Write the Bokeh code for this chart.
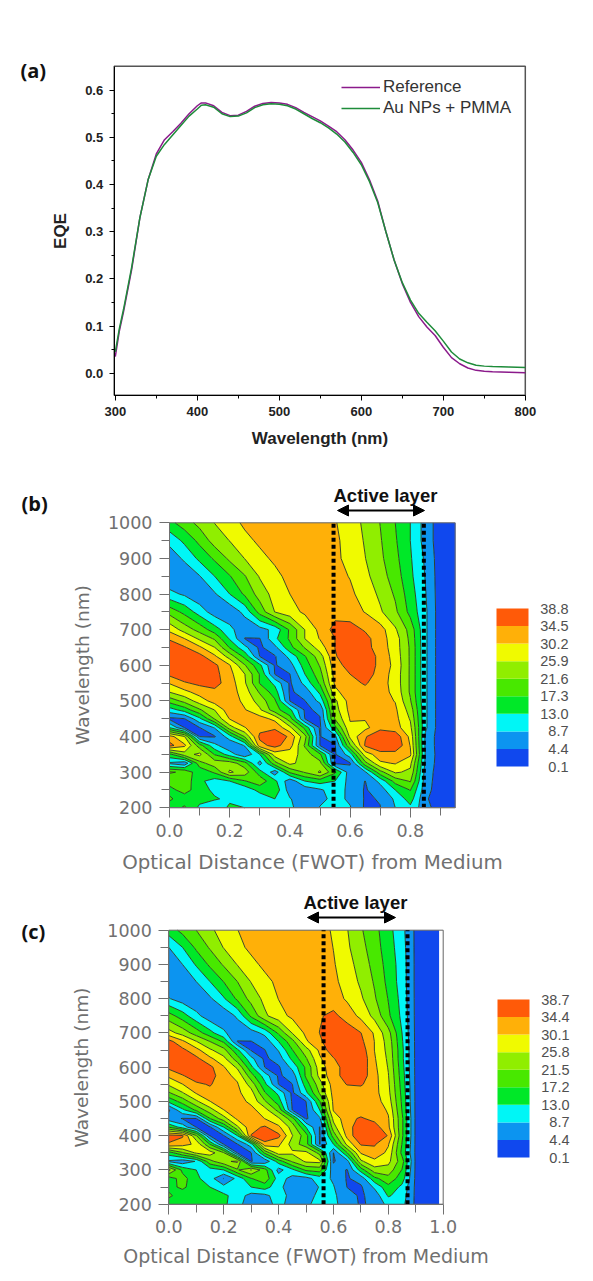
from bokeh.plotting import figure
from bokeh.layouts import column
from bokeh.models import (Range1d, FixedTicker, Label, Legend, LegendItem, Arrow, NormalHead, PrintfTickFormatter)
from bokeh.core.properties import value
from bokeh.embed import file_html
from bokeh.resources import INLINE
import numpy as np

# ---------- panel (a) data ----------
wl_ref = [300,305,310,320,330,340,350,360,370,380,390,400,405,410,420,430,440,450,460,470,480,490,500,510,520,530,540,550,560,570,580,590,600,610,620,630,640,650,660,670,680,690,700,710,720,730,740,750,760,780,800]
eqe_ref = [.035,.09,.13,.22,.33,.41,.465,.495,.512,.53,.55,.567,.573,.573,.567,.553,.546,.547,.555,.566,.572,.574,.573,.57,.563,.553,.544,.535,.524,.512,.495,.473,.447,.41,.365,.30,.24,.19,.15,.12,.098,.08,.055,.033,.02,.011,.006,.004,.003,.002,.001]
eqe_au = [.045,.095,.135,.225,.33,.41,.46,.485,.505,.525,.545,.56,.568,.569,.564,.55,.544,.545,.552,.563,.569,.571,.57,.567,.56,.55,.54,.531,.52,.507,.49,.468,.442,.406,.362,.30,.24,.192,.155,.127,.108,.09,.068,.045,.03,.022,.017,.015,.014,.013,.012]

# ---------- panel (b), (c) data ----------
wavelengths = [1000,950,900,850,800,750,700,675,650,625,600,575,550,525,500,475,450,425,400,375,350,325,300,275,250,225,200]
dist_b = [0,.05,.1,.15,.2,.25,.3,.35,.4,.45,.5,.55,.6,.65,.7,.75,.8,.85,.9,.95]
dist_c = [0,.05,.1,.15,.2,.25,.3,.35,.4,.45,.5,.55,.6,.65,.7,.75,.8,.85,.9,.95,.985]
levels_b = [0.1,4.4,8.7,13.0,17.3,21.6,25.9,30.2,34.5,38.8]
levels_c = [0.1,4.4,8.7,13.0,17.2,21.5,25.8,30.1,34.4,38.7]
band_colors = ["#1048ee","#0c94f0","#00f6f6","#00e828","#48e800","#90ee00","#f0fa00","#ffb008","#ff5a08"]

field_b = [
[16,19.5,23,26,28.5,31,33,33,33,33,33,30.5,28,25,21.5,17.3,13,7,2,1.5],
[10,14,18.5,23.5,26,29,31,33,33,33,33,31,28.5,25.5,22,17.8,13,7,2,1.5],
[6,9.5,14,18,22.5,26,29,31,33,33,33,31,29,26,22.5,18.5,13.5,8,2,1.5],
[5,5.5,8.5,13,17,21.3,26.3,29,31.5,33,33,31.5,30,27,23.5,19.5,14,8.5,2,1.5],
[10,8,5.5,8.2,13,18,23.5,27.5,30.2,32.5,33,32,31,28.5,25,21,15,9,2,1.5],
[20,16,11,6.5,5.5,10,19,26,28.5,31,33,33,32,30,26.5,22.5,16,9.5,2,1.5],
[29,24,20,15,10,5.5,7,10,18,26,31.5,36,36.5,34,32,26.5,20,9.5,2,1.5],
[34,30.2,25,21,12.5,4.3,4.3,12,18,26,30.5,34.5,37,36,32,28,20.5,9.5,2,1.5],
[37,35,31,26,17,10,3.5,7.5,16,22,28,34.6,37,36,32.5,28,21,9.5,2,1.5],
[38,38,36,31,24,16,4.3,4,10,17,24,34,38,38,33,28.5,21,9.5,2,1.5],
[38,38.5,38,35.5,30.5,22,14,4,7,15,22,33,36,38,33,29,21,9.5,2,1.5],
[35.5,37.5,38,36,31.5,26,17,4.3,4.3,13,20,32,34.5,37,32.5,28.5,21,9.5,2,1.5],
[30.5,34,35.5,36,32.5,26.5,17,12,3.8,10,18,31,33,35,32,28.5,21,9.5,2,1.5],
[26,29,32,33.5,32.5,28,21,15,3.8,6,14,29,33,33,32,29,21,9.5,2,1.5],
[19,23,28,32,33,29,24,18,4.3,4.3,10,25,32,31.5,32,30,22,9.5,2,1.5],
[11,15,21,26,33,30.5,26.5,19,14,3.8,5,24,31.5,31,32,31,24,9.5,2,1.5],
[3.5,4.3,12,22,30.5,33,32,29,19,4.2,4.2,22,30.5,30.5,33,31.5,25.5,9.5,2,1.5],
[13,4.3,4.3,9,24,30,33,33.5,27,16,3.8,16,29.5,29,33,32,27,9.5,2,1.5],
[32,26,4.3,4,11,22,35.5,38.5,33.5,23,4.2,7.5,27,34,38.7,37.5,29,8,2,1.5],
[36,31,19,10,5,9,33,36,32,21,4.3,4,21,35,38.7,38.5,30,8,2,1.5],
[16,24,27,17,11,5,13,28,28,24,18,4,11,28,32.5,32.5,31,8.5,2,1.5],
[8,5.5,20,24,24,19,7,20,27,24,23,3.8,4,20,29.5,30.5,27,8,2,1.5],
[22,21,14,18,26.5,24,15,6,18,22,26.5,18,6,8,20,26.5,25,7,2,1.5],
[19,20,14,11,13,17,20,14,6,13,15,13,7,4.3,10,19,22,6.5,2,1.5],
[16,19,15,12,10,10,14.5,16,6.5,6,8,11,7.5,4,6.5,13,17.5,6,2,1.5],
[18,15,14.5,13.5,12,10.5,10,13,9,6,7.5,10,8,4,4.6,9.5,15,5,2,1.5],
[15,18,12,9.5,14,13,9,10,10,5,9,10,9,3.8,4.3,8.7,12,6,2,1.5],
]

field_c = [
[15,18.5,21.5,25,27.5,30,32,33,33,33,33,32,29.5,26,22,18.5,14.5,10,3.5,1.5,1.5],
[8.7,13,18,22,26,29,31,33,33,33,33,32.5,30,26.5,23,19,15,10.5,3.5,1.5,1.5],
[6,8.7,13.5,18,22,26,29,31,33,33,33,32.5,30.5,27.5,24,20,15.5,11,3.5,1.5,1.5],
[5,5.5,8.7,13,17.3,21.5,26,29,31,33,33,33,31,28.5,25,21,16,11,3.5,1.5,1.5],
[9,6.5,5,8,12.5,18,23,27,30.2,32.5,33,33,32,29.5,26.5,22,17,11.5,3.5,1.5,1.5],
[19,15,10,6,5.5,9.5,18,25,28.5,31,33,34,35.5,32.5,29,24.5,18,12,3.5,1.5,1.5],
[27.5,24,19.5,14.5,9.5,5.5,6.5,10,18,26,31,34.5,37,37,34.5,29.5,23,13,3.5,1.5,1.5],
[36,31,26,21.5,16.5,4.3,4.3,6,13,20,29.5,33.5,38,38,35.5,30,24,13.5,3.5,1.5,1.5],
[38,35.5,31.5,26.5,23,14,4,4.3,9,17,24,31,37.5,38.5,37,30,24.5,14,3.5,1.5,1.5],
[38.5,38,35.5,31,27,19,10,3.5,6.5,14,21,29.5,34,38.6,38,30.5,25,14,3.5,1.5,1.5],
[35.5,38,38,35.5,30.5,25,14,4.3,3.8,10,18,28,33,36,37.5,31,25.5,14.5,3.5,1.5,1.5],
[31,34,37,36.5,31.5,29,19,11,3.8,6,18,27,33,36,37,31.5,26,15,3.5,1.5,1.5],
[26.5,30,33.5,34.8,32,30.5,24,14,4.3,4.3,15,24,32,34.6,35,31.5,26.5,15.5,3.5,1.5,1.5],
[21,25.5,30.5,33,32.5,31,27.5,17.5,12,3.5,12,22,31.5,32,32,31.5,27,16,3.5,1.5,1.5],
[14,19,25,30,33,32,29,22,15,3.8,4.3,17,31,31.5,31.5,32,28,16.5,3.5,1.5,1.5],
[3.8,12,18,24,30,33,31.5,27.5,20,4.3,3.8,13,30.5,32,32,33,29.5,17,3.5,1.5,1.5],
[6,4.2,4.3,17,24,31,33,30,26.5,19,3.8,8,27,33,35,33,30.5,18,3.5,1.5,1.5],
[17,11,4.3,4,13,25,33,35,31,24,13,4.2,24,33,36.5,36.5,31,18,3.5,1.5,1.5],
[36,35,22,4.3,4.2,13,34.6,37.5,35.5,26,19,4,19,31.5,38.5,38.6,34,18,3.5,1.5,1.5],
[34,32,29,17,4.3,4.2,11,33,31,24,19,4.2,13,27,34.8,34.8,30.5,17,3.5,1.5,1.5],
[15,21,26.5,28,22,4.3,4.2,18,28,26.5,27,20,4.3,17,30.5,33,29,16,3.5,1.5,1.5],
[8,6,9,20,25,26.5,4.3,5.5,15,22,26.5,27,4,7,25,29,27,19,3.5,1.5,1.5],
[27,16,13,11,13,21,26,19,7,12,18,19,6,4.2,15,24,24,17,3.5,1.5,1.5],
[15,19,14,10.5,4.3,10,17,20,11,7,7,11,8,4,6,16,20,15,3.5,1.5,1.5],
[16,18,15,13,10,10.5,13,15,10,6,5.5,9,9,4.3,3.8,9.5,16,12,3.5,1.5,1.5],
[18,15,13.5,14.5,14,11,7,7.5,11,7,6.5,10,9.5,6,3.8,6,13.5,11,3.5,1.5,1.5],
[15,17,14,13,14,10,6.5,7,10,7,8,10,9.5,7,3.8,5.5,10,10,3.5,1.5,1.5],
]

PAGE_W = 593
GRAY = "#707070"
DARK = "#222222"


def frameless(height, x_of_px, y_of_px, page_top):
    fig = figure(width=PAGE_W, height=height, output_backend="svg", toolbar_location=None,
                 x_range=Range1d(x_of_px(0), x_of_px(PAGE_W)),
                 y_range=Range1d(y_of_px(page_top + height), y_of_px(page_top)),
                 min_border_left=0, min_border_right=0, min_border_top=0, min_border_bottom=0,
                 frame_align=False)
    fig.grid.visible = False
    fig.outline_line_color = None
    return fig


def style_axes(fig, font, weight, tick_size, lab_size, color, tick_out, minor_out):
    for ax in (fig.xaxis[0], fig.yaxis[0]):
        ax.axis_label_text_font = font
        ax.axis_label_text_font_style = weight
        ax.axis_label_text_font_size = lab_size
        ax.axis_label_text_color = color
        ax.major_label_text_font = font
        ax.major_label_text_font_style = weight
        ax.major_label_text_font_size = tick_size
        ax.major_label_text_color = color
        ax.major_tick_in = 0
        ax.major_tick_out = tick_out
        ax.minor_tick_in = 0
        ax.minor_tick_out = minor_out


# ---------- panel (a) ----------
ax_l, ax_s, ay0, ay_s = 114.8, 0.82, 372.7, 471.7
aX = lambda px: 300 + (px - ax_l) / ax_s
aY = lambda px: (ay0 - px) / ay_s
pa = frameless(465, aX, aY, 0)
pa.xaxis[0].fixed_location = aY(394.7)
pa.yaxis[0].fixed_location = aX(113.7)
pa.xaxis[0].bounds = (aX(113.7), 800)
pa.yaxis[0].bounds = (aY(394.7), aY(65.7))
pa.xaxis[0].axis_label = "Wavelength (nm)"
pa.yaxis[0].axis_label = "EQE"
style_axes(pa, "Liberation Sans", "bold", "13px", "17px", DARK, 5, 3)
pa.quad(left=[aX(113.7)], right=[800], bottom=[aY(394.7)], top=[aY(65.7)], fill_color=None,
        line_color="#555555", line_width=1.5)
r1 = pa.line(wl_ref, eqe_ref, line_color="#8b1a8b", line_width=1.5)
r2 = pa.line(wl_ref, eqe_au, line_color="#1e8c3a", line_width=1.5)
pa.xaxis[0].ticker = FixedTicker(ticks=[300,400,500,600,700,800], minor_ticks=[350,450,550,650,750])
pa.yaxis[0].ticker = FixedTicker(ticks=[0,.1,.2,.3,.4,.5,.6], minor_ticks=[.05,.15,.25,.35,.45,.55])
pa.yaxis[0].formatter = PrintfTickFormatter(format="%.1f")
pa.xaxis[0].major_label_standoff = 7
pa.xaxis[0].axis_label_standoff = 9
pa.yaxis[0].major_label_standoff = 6
pa.yaxis[0].axis_label_standoff = 12
leg = Legend(items=[LegendItem(label="Reference", renderers=[r1]), LegendItem(label="Au NPs + PMMA", renderers=[r2])],
             location=(341, 465 - 118), border_line_color=None, background_fill_alpha=0,
             label_text_font="Liberation Sans", label_text_font_size="17px", label_text_color="#333333",
             glyph_width=39, glyph_height=20, spacing=1, label_standoff=3, padding=6, margin=0)
pa.add_layout(leg)
pa.add_layout(Label(x=aX(20), y=aY(70), text="(a)", text_font="Open Sans", text_font_style="bold",
                    text_font_size="20px", text_baseline="middle", text_color="#111111"))


def contour_panel(height, left, top_px, scale, bot_px, dist, field, levels, xmax, major_x, minor_x,
                  dots, tag, tag_y, act_px, arrow_px, bar, xlab_size, xlab_off):
    page_top = bar["page_top"]
    x_of = lambda px: (px - left) / scale
    y_of = lambda px: 1000 - (px - top_px) * 800 / (bot_px - top_px)
    fig = frameless(height, x_of, y_of, page_top)
    fig.xaxis[0].fixed_location = 200
    fig.yaxis[0].fixed_location = 0
    fig.xaxis[0].bounds = (0, xmax)
    fig.yaxis[0].bounds = (200, 1000)
    fig.xaxis[0].axis_label = "Optical Distance (FWOT) from Medium"
    fig.yaxis[0].axis_label = "Wavelength (nm)"
    style_axes(fig, "DejaVu Sans", "normal", "17.5px", "18.5px", GRAY, 10, 8)
    fig.xaxis[0].axis_label_text_font_size = xlab_size
    for ax in (fig.xaxis[0], fig.yaxis[0]):
        ax.major_tick_line_color = GRAY
        ax.minor_tick_line_color = GRAY
        ax.axis_line_color = GRAY

    z = np.array(field, dtype=float)[::-1]
    w = np.array(wavelengths, dtype=float)[::-1]
    fig.contour(np.array(dist), w, z, levels=levels, fill_color=band_colors,
                line_color="#2a3a20", line_width=1, line_alpha=0.9)
    fig.quad(left=[0], right=[xmax], bottom=[200], top=[1000], fill_color=None, line_color="#666666", line_width=1)
    for d in dots:
        fig.line([d, d], [200, 1000], line_color="black", line_width=4, line_dash="4 3", line_cap="butt")

    fig.xaxis[0].ticker = FixedTicker(ticks=major_x, minor_ticks=minor_x)
    fig.xaxis[0].formatter = PrintfTickFormatter(format="%.1f")
    fig.xaxis[0].major_label_standoff = 6
    fig.xaxis[0].axis_label_standoff = xlab_off
    fig.yaxis[0].ticker = FixedTicker(ticks=[200,300,400,500,600,700,800,900,1000],
                                      minor_ticks=[250,350,450,550,650,750,850,950])
    fig.yaxis[0].major_label_standoff = 7
    fig.yaxis[0].axis_label_standoff = 12

    # colour key
    lo, hi = levels[0], levels[-1]
    per_px = (hi - lo) / (bar["bot"] - bar["top"])
    fig.extra_y_ranges["key"] = Range1d(lo - (page_top + height - bar["bot"]) * per_px,
                                        hi + (bar["top"] - page_top) * per_px)
    n = len(band_colors)
    edges = [lo + (hi - lo) * i / n for i in range(n + 1)]
    fig.quad(left=[x_of(bar["l"])] * n, right=[x_of(bar["r"])] * n, bottom=edges[:-1], top=edges[1:],
             fill_color=band_colors, line_color=None, y_range_name="key")
    fig.text(x=[x_of(bar["lab"])] * (n + 1), y=edges, text=[f"{v:.1f}" for v in levels],
             text_align="right", text_baseline="middle", text_font=value("Liberation Sans"),
             text_font_size="14.5px", text_color="#505050", y_range_name="key")

    fig.add_layout(Label(x=x_of(21), y=y_of(tag_y), text=tag, text_font="Open Sans", text_font_style="bold",
                         text_font_size="20px", text_baseline="middle", text_color="#111111"))
    fig.add_layout(Label(x=x_of(act_px[0]), y=y_of(act_px[1]), text="Active layer", text_font="Liberation Sans",
                         text_font_style="bold", text_font_size="18.5px", text_baseline="middle", text_color="#111111"))
    fig.add_layout(Arrow(x_start=x_of(arrow_px[0]), x_end=x_of(arrow_px[1]), y_start=y_of(arrow_px[2]), y_end=y_of(arrow_px[2]),
                         line_color="black", line_width=2,
                         start=NormalHead(size=11, fill_color="black", line_color="black"),
                         end=NormalHead(size=11, fill_color="black", line_color="black")))
    return fig


pb = contour_panel(410, 169, 522.3, 301, 807.3, dist_b, field_b, levels_b, 0.949,
                   [0,.2,.4,.6,.8], [.1,.3,.5,.7,.9], [.545,.845], "(b)", 503, (333,495), (337,424,510),
                   dict(page_top=465, l=496, r=528, top=608, bot=766, lab=568), "19.8px", 11)
pc = contour_panel(400, 168.3, 929.7, 274.4, 1203.7, dist_c, field_c, levels_c, 1.0,
                   [0,.2,.4,.6,.8,1.0], [.1,.3,.5,.7,.9], [.564,.87], "(c)", 931, (303,902), (307,395,917),
                   dict(page_top=875, l=497, r=529, top=999, bot=1157, lab=569), "19px", 8)

layout = column(pa, pb, pc, spacing=0)
open("out.html", "w").write(file_html(layout, INLINE))
